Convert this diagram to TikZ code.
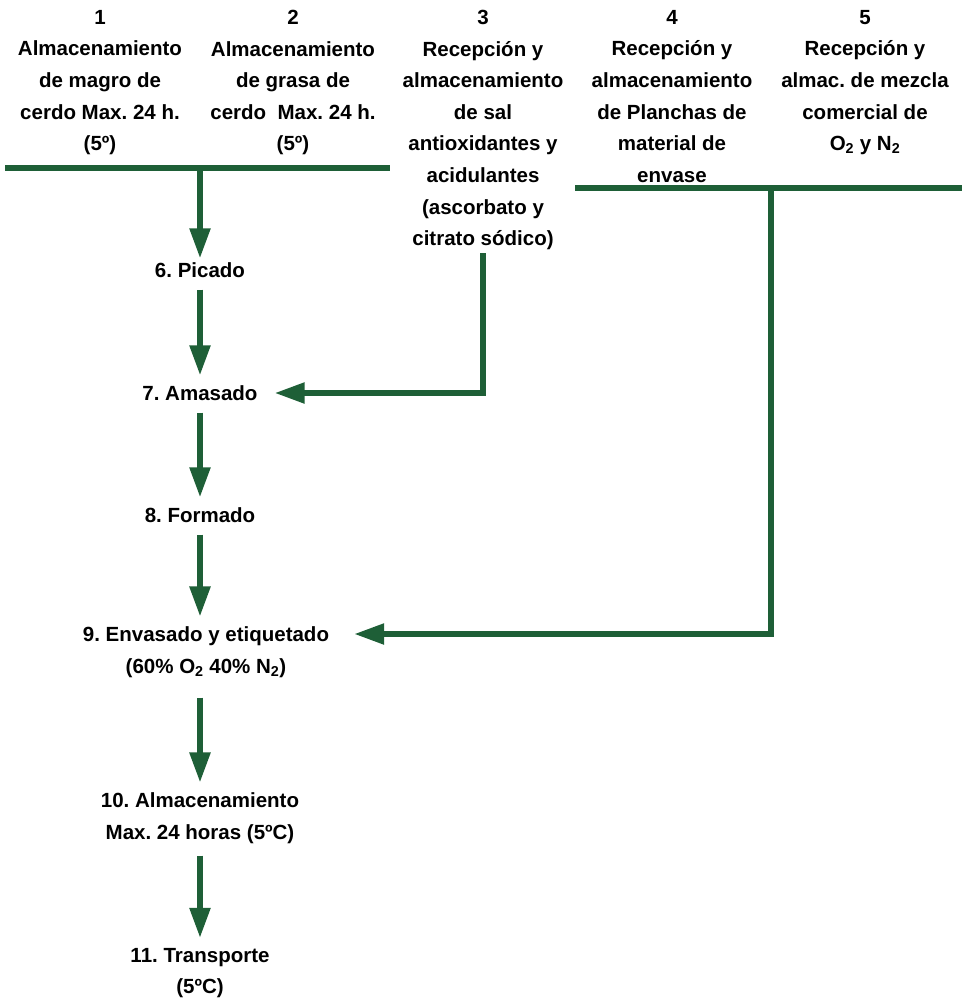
\documentclass[tikz,border=0pt]{standalone}
\usepackage{fontspec}
\setmainfont{Liberation Sans}
\frenchspacing
\usetikzlibrary{arrows.meta}
\definecolor{verde}{RGB}{30,95,55}
\tikzset{
    linea/.style={draw=verde, line width=5.5pt},
    flujo/.style={linea, -{Triangle[length=30pt,width=20pt]}, shorten <=12pt, shorten >=10pt},
    texto/.style={font=\bfseries\fontsize{20.5}{31.6}\selectfont, align=center, inner sep=0pt},
}

\begin{document}
\begin{tikzpicture}[x=1pt,y=-1pt]
  \useasboundingbox (0,0) rectangle (962,1002);

  % Materias primas
  \node[texto, anchor=north] (mat1) at (100,10) {1\\Almacenamiento\\de magro de\\cerdo Max. 24 h.\\(5º)};
  \node[texto, anchor=north] (mat2) at (293,10) {2\\Almacenamiento\\de grasa de\\cerdo~ Max. 24 h.\\(5º)};
  \node[texto, anchor=north] (mat3) at (483,10) {3\\Recepción y\\almacenamiento\\de sal\\antioxidantes y\\acidulantes\\(ascorbato y\\citrato sódico)};
  \node[texto, anchor=north] (mat4) at (672,10) {4\\Recepción y\\almacenamiento\\de Planchas de\\material de\\envase};
  \node[texto, anchor=north] (mat5) at (865,10) {5\\Recepción y\\almac. de mezcla\\comercial de\\O\textsubscript{2} y N\textsubscript{2}};

  % Etapas
  \node[texto] (s6) at (200,270) {6. Picado};
  \node[texto] (s7) at (200,393) {7. Amasado};
  \node[texto] (s8) at (200,515) {8. Formado};
  \node[texto] (s9) at (206,652) {9. Envasado y etiquetado\\(60\% O\textsubscript{2} 40\% N\textsubscript{2})};
  \node[texto] (s10) at (200,818) {10. Almacenamiento\\Max. 24 horas (5ºC)};
  \node[texto] (s11) at (200,973) {11. Transporte\\(5ºC)};

  % Barras colectoras
  \coordinate (b1a) at (5,168);
  \coordinate (b1b) at (390,168);
  \coordinate (b1c) at (200,168);
  \coordinate (b2a) at (575,188);
  \coordinate (b2b) at (962,188);
  \coordinate (b2c) at (771,188);
  \draw[linea] (b1a) -- (b1b);
  \draw[linea] (b2a) -- (b2b);

  % Flujo principal
  \draw[flujo, shorten <=0pt, shorten >=4pt] (b1c) -- (s6.north);
  \draw[flujo] (s6.south) -- (s7.north);
  \draw[flujo] (s7.south) -- (s8.north);
  \draw[flujo] (s8.south) -- (s8.south |- s9.north);
  \draw[flujo, shorten <=20pt] (s10.north |- s9.south) -- (s10.north);
  \draw[flujo] (s10.south) -- (s11.north);

  % Entradas laterales
  \draw[flujo, shorten <=3pt, shorten >=17pt] (mat3.south) |- (s7.east);
  \draw[flujo, shorten <=0pt, shorten >=25pt] (b2c) |- ([yshift=18pt]s9.east);

\end{tikzpicture}
\end{document}
